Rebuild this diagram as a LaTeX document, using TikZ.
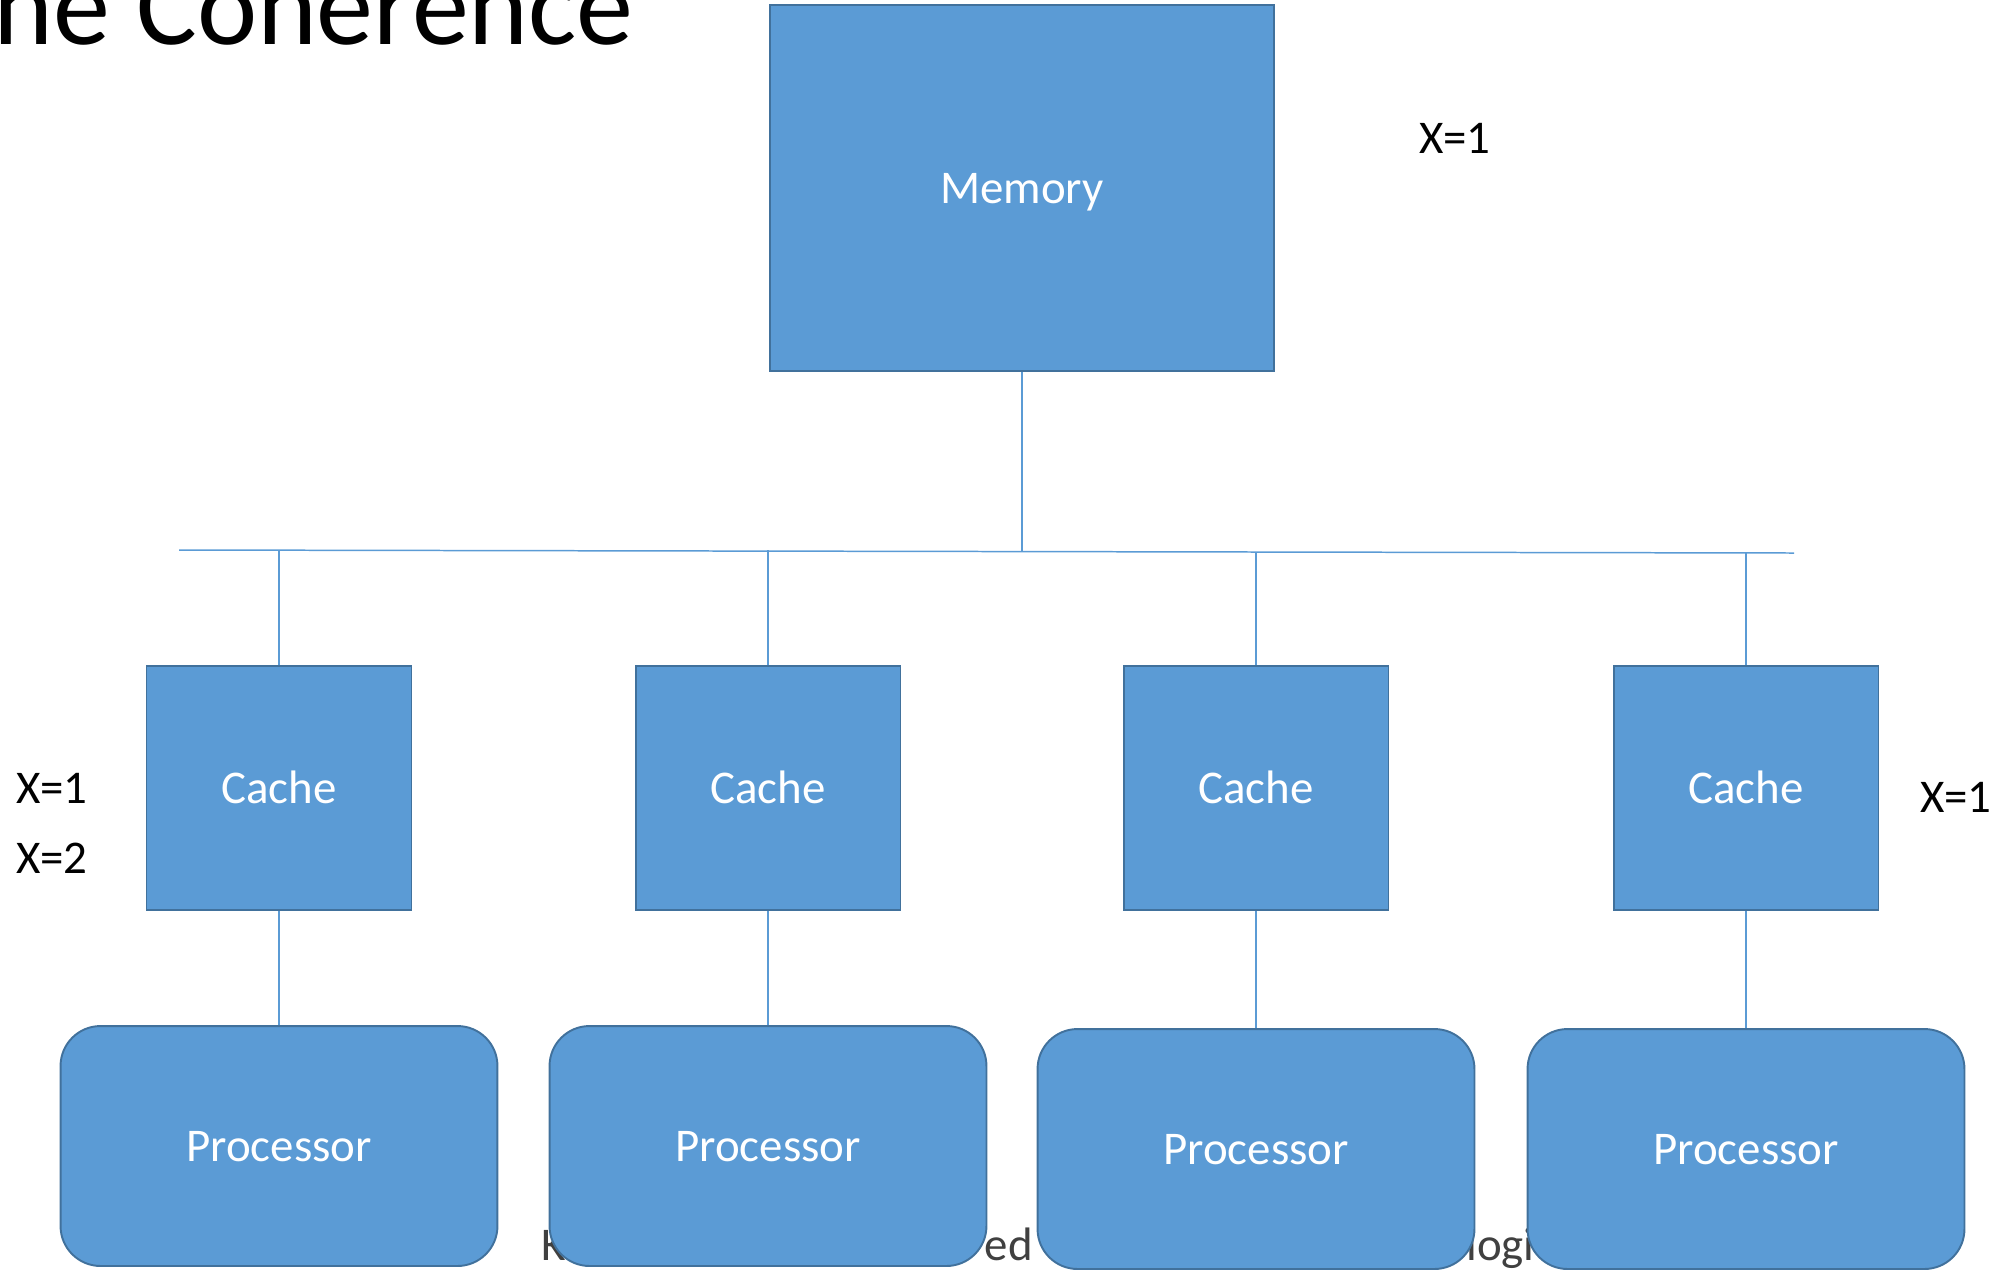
\documentclass[tikz,border=0pt]{standalone}
\usepackage{fontspec}
\setmainfont{Carlito}
\definecolor{boxblue}{HTML}{5B9BD5}
\definecolor{boxedge}{HTML}{41719C}
\definecolor{footgray}{HTML}{404040}
\newcommand{\bodysize}{\fontsize{26.7}{32}\selectfont}
\tikzset{
	unit/.style={draw=boxedge,fill=boxblue,line width=1.1pt,text=white,font=\bodysize,text height=17.2pt,text depth=0pt,inner sep=0pt},
	cachebox/.style={unit,minimum width=5.3cm,minimum height=4.88cm},
	procbox/.style={unit,rounded corners=0.8cm,minimum width=8.74cm,minimum height=4.8cm},
	wire/.style={draw=boxblue,line width=0.85pt},
	val/.style={font=\bodysize,text height=17.2pt,text depth=0pt,inner sep=0pt},
	foot/.style={font=\bodysize,text=footgray,inner sep=0pt}
}

\begin{document}
\begin{tikzpicture}[x=0.02cm,y=-0.02cm]
	\useasboundingbox (0,0) rectangle (2008,1272);
	\clip (0,0) rectangle (2008,1272);
	\node[anchor=base east,inner sep=0pt,font=\fontsize{64.9}{78}\selectfont] (title) at (634,44) {he Coherence};
	\node[foot,anchor=base west] (f1) at (541,1260) {K};
	\node[foot,anchor=base east] (f2) at (1033,1260) {ed};
	\node[foot,anchor=base west] (f3) at (1466,1260) {logi};
	\node[unit,minimum width=10.08cm,minimum height=7.32cm] (mem) at (1022,188) {Memory};
	\node[cachebox] (c1) at (279,788) {Cache};
	\node[cachebox] (c2) at (768,788) {Cache};
	\node[cachebox] (c3) at (1256,788) {Cache};
	\node[cachebox] (c4) at (1746,788) {Cache};
	\node[procbox] (p1) at (279,1146) {Processor};
	\node[procbox] (p2) at (768,1146) {Processor};
	\node[procbox] (p3) at (1256,1149) {Processor};
	\node[procbox] (p4) at (1746,1149) {Processor};
	\coordinate (busL) at (179,550);
	\coordinate (busR) at (1794,553);
	\draw[wire] (busL) -- (busR);
	\draw[wire] (mem.south) -- (mem.south |- 0,551.5);
	\draw[wire] (c1.north) -- (c1.north |- busL);
	\draw[wire] (c2.north) -- (c2.north |- busL);
	\draw[wire] (c3.north) -- (c3.north |- busR);
	\draw[wire] (c4.north) -- (c4.north |- busR);
	\draw[wire] (c1.south) -- (p1.north);
	\draw[wire] (c2.south) -- (p2.north);
	\draw[wire] (c3.south) -- (p3.north);
	\draw[wire] (c4.south) -- (p4.north);
	\node[val] (xmem) at (1455,138) {X=1};
	\node[val] (xa) at (52,788) {X=1};
	\node[val] (xb) at (52,858) {X=2};
	\node[val] (xd) at (1956,797) {X=1};
\end{tikzpicture}
\end{document}
